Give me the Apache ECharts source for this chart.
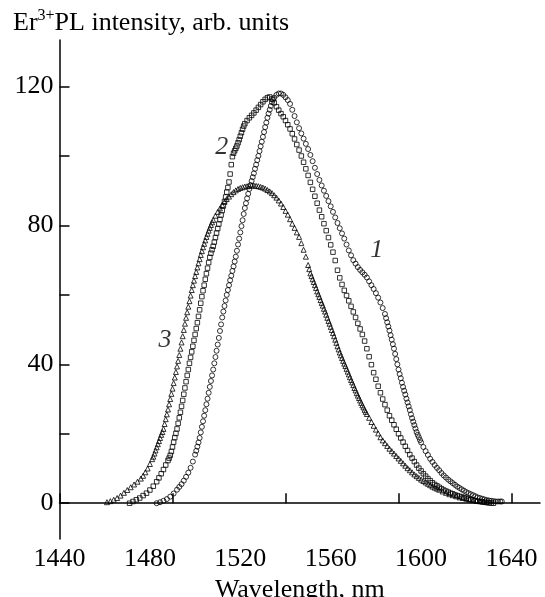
<!DOCTYPE html>
<html>
<head>
<meta charset="utf-8">
<script src="https://cdn.jsdelivr.net/npm/echarts@6/dist/echarts.min.js"></script>
<style>
  html, body { margin: 0; padding: 0; background: #fff; }
  #chart { width: 545px; height: 597px; }
</style>
</head>
<body>
<div id="chart"></div>
<script>
// curve 1, open circles: [wavelength nm, intensity]
const curve1 = [
  [1483, 0.0], [1484.5, 0.3], [1486, 0.7], [1487.5, 1.2], [1489, 1.9], [1490.5, 2.8], [1492, 3.9], [1493, 4.7],
  [1494, 5.5], [1495, 6.5], [1496, 7.6], [1497, 8.8], [1498, 10.2], [1499, 12.0], [1500, 14.0], [1500.5, 15.1],
  [1501, 16.3], [1501.5, 17.5], [1502, 18.8], [1502.5, 20.4], [1503, 22.0], [1503.5, 23.6], [1504, 25.2], [1504.5, 26.8],
  [1505, 28.5], [1505.5, 30.1], [1506, 31.8], [1506.5, 33.5], [1507, 35.2], [1507.5, 36.8], [1508, 38.5], [1508.5, 40.3],
  [1509, 42.1], [1509.5, 43.9], [1510, 45.7], [1510.5, 47.6], [1511, 49.6], [1511.5, 51.5], [1512, 53.5], [1512.5, 55.2],
  [1513, 56.8], [1513.5, 58.4], [1514, 60.0], [1514.5, 61.4], [1515, 62.8], [1515.5, 64.2], [1516, 65.5], [1516.5, 66.9],
  [1517, 68.2], [1517.5, 69.6], [1518, 71.0], [1518.5, 72.7], [1519, 74.5], [1519.5, 76.2], [1520, 78.0], [1520.5, 79.8],
  [1521, 81.5], [1521.5, 83.3], [1522, 85.0], [1522.5, 86.4], [1523, 87.8], [1523.5, 89.1], [1524, 90.5], [1524.5, 91.6],
  [1525, 92.8], [1525.5, 93.9], [1526, 95.0], [1526.5, 96.3], [1527, 97.5], [1527.5, 98.8], [1528, 100.0], [1528.5, 101.4],
  [1529, 102.8], [1529.5, 104.1], [1530, 105.5], [1530.5, 106.9], [1531, 108.3], [1531.5, 109.6], [1532, 111.0], [1532.5, 112.2],
  [1533, 113.3], [1533.5, 114.4], [1534, 115.5], [1534.5, 116.2], [1535, 116.8], [1536, 117.6], [1537, 118.0], [1538, 118.0],
  [1539, 117.6], [1540, 116.9], [1541, 116.1], [1542, 115.0], [1543, 113.3], [1544, 111.5], [1545, 109.7], [1546, 108.0],
  [1547, 106.5], [1548, 105.0], [1549, 103.5], [1550, 102.0], [1551, 100.3], [1552, 98.5], [1553, 96.6], [1554, 94.8],
  [1555, 93.1], [1556, 91.5], [1557, 90.0], [1558, 88.5], [1559, 87.0], [1560, 85.5], [1561, 83.9], [1562, 82.3],
  [1563, 80.7], [1564, 79.2], [1565, 77.7], [1566, 76.2], [1567, 74.5], [1568, 72.8], [1569, 71.4], [1570, 70.0],
  [1571, 69.0], [1572, 68.0], [1573, 67.2], [1574, 66.5], [1575, 65.8], [1576, 65.0], [1577, 63.9], [1578, 62.8],
  [1579, 61.7], [1580, 60.5], [1581, 59.2], [1582, 57.8], [1583, 56.2], [1584, 54.5], [1584.5, 53.3], [1585, 52.1],
  [1585.5, 50.9], [1586, 49.7], [1586.5, 48.4], [1587, 47.1], [1587.5, 45.8], [1588, 44.5], [1588.5, 43.0], [1589, 41.5],
  [1589.5, 40.0], [1590, 38.5], [1590.5, 37.2], [1591, 36.0], [1591.5, 34.7], [1592, 33.5], [1592.5, 32.4], [1593, 31.3],
  [1593.5, 30.1], [1594, 29.0], [1594.5, 27.9], [1595, 26.8], [1595.5, 25.6], [1596, 24.5], [1596.5, 23.5], [1597, 22.5],
  [1597.5, 21.5], [1598, 20.5], [1598.5, 19.7], [1599, 19.0], [1599.5, 18.2], [1600, 17.5], [1601, 16.2], [1602, 15.0],
  [1603, 13.9], [1604, 12.8], [1605, 11.9], [1606, 11.0], [1607, 10.2], [1608, 9.5], [1609, 8.7], [1610, 8.0],
  [1611, 7.4], [1612, 6.8], [1613, 6.3], [1614, 5.8], [1615, 5.3], [1616, 4.8], [1617, 4.4], [1618, 4.0],
  [1619, 3.6], [1620, 3.2], [1621, 2.9], [1622, 2.6], [1623, 2.3], [1624, 2.0], [1625, 1.7], [1626, 1.5],
  [1627, 1.3], [1628, 1.1], [1629, 0.9], [1630, 0.8], [1631, 0.7], [1632, 0.6], [1633, 0.5], [1634, 0.5],
  [1635, 0.5], [1635.7, 0.5]
]

// curve 2, open squares
const curve2 = [
  [1471, 0.0], [1472.5, 0.5], [1474, 1.0], [1475.5, 1.5], [1477, 2.2], [1478.5, 2.9], [1480, 3.8], [1481.5, 4.9],
  [1483, 6.2], [1484, 7.3], [1485, 8.5], [1486, 9.7], [1487, 11.0], [1488, 12.3], [1488.5, 13.0], [1489, 13.8],
  [1489.5, 14.9], [1490, 16.2], [1490.5, 17.6], [1491, 18.9], [1491.5, 20.1], [1492, 21.4], [1492.5, 23.0], [1493, 24.6],
  [1493.5, 26.2], [1494, 27.9], [1494.5, 29.6], [1495, 31.4], [1495.5, 33.2], [1496, 35.0], [1496.5, 36.8], [1497, 38.5],
  [1497.5, 40.3], [1498, 42.0], [1498.5, 43.6], [1499, 45.2], [1499.5, 46.9], [1500, 48.6], [1500.5, 50.3], [1501, 52.0],
  [1501.5, 53.8], [1502, 55.7], [1502.5, 57.6], [1503, 59.5], [1503.5, 61.2], [1504, 62.8], [1504.5, 64.5], [1505, 66.1],
  [1505.5, 67.7], [1506, 69.3], [1506.5, 70.8], [1507, 72.0], [1507.5, 73.0], [1508, 74.0], [1508.5, 75.2], [1509, 76.5],
  [1509.5, 77.8], [1510, 79.1], [1510.5, 80.4], [1511, 81.7], [1511.5, 83.0], [1512, 84.3], [1512.5, 85.6], [1513, 86.9],
  [1513.5, 88.2], [1514, 89.6], [1514.5, 90.9], [1515, 92.5], [1515.5, 94.8], [1516, 97.5], [1516.5, 99.8], [1517, 100.8],
  [1517.5, 101.5], [1518, 102.2], [1518.5, 102.9], [1519, 103.8], [1519.5, 104.7], [1520, 105.7], [1520.5, 106.7], [1521, 107.7],
  [1521.5, 108.6], [1522, 109.3], [1523, 110.2], [1524, 111.0], [1525, 111.7], [1526, 112.4], [1527, 113.2], [1528, 114.0],
  [1529, 114.8], [1530, 115.6], [1531, 116.3], [1532, 116.8], [1533, 117.0], [1534, 116.4], [1535, 115.3], [1536, 114.2],
  [1537, 113.2], [1538, 112.2], [1539, 111.3], [1540, 110.2], [1541, 109.0], [1542, 107.8], [1543, 106.4], [1544, 104.9],
  [1545, 103.3], [1546, 101.7], [1547, 100.0], [1548, 98.2], [1549, 96.3], [1550, 94.4], [1551, 92.4], [1552, 90.4],
  [1553, 88.4], [1554, 86.4], [1555, 84.4], [1556, 82.5], [1557, 80.5], [1558, 78.5], [1559, 76.5], [1560, 74.4],
  [1561, 72.3], [1562, 69.9], [1563, 67.1], [1564, 64.9], [1565, 63.0], [1566, 61.3], [1567, 59.8], [1568, 58.3],
  [1569, 56.7], [1570, 55.1], [1571, 53.5], [1572, 51.8], [1573, 50.2], [1574, 48.6], [1575, 46.7], [1576, 44.5],
  [1577, 42.2], [1578, 39.9], [1579, 37.6], [1580, 35.7], [1581, 33.7], [1582, 31.8], [1583, 30.0], [1584, 28.4],
  [1585, 26.8], [1586, 25.2], [1587, 23.9], [1588, 22.6], [1589, 21.3], [1590, 20.0], [1591, 18.8], [1592, 17.6],
  [1593, 16.4], [1594, 15.2], [1595, 14.0], [1596, 13.0], [1597, 12.0], [1598, 11.0], [1599, 10.1], [1600, 9.3],
  [1601, 8.5], [1602, 7.8], [1603, 7.1], [1604, 6.5], [1605, 5.9], [1606, 5.4], [1607, 5.0], [1608, 4.6],
  [1609, 4.2], [1610, 3.8], [1611, 3.5], [1612, 3.2], [1613, 2.9], [1614, 2.7], [1615, 2.4], [1616, 2.2],
  [1617, 2.0], [1618, 1.8], [1619, 1.6], [1620, 1.4], [1621, 1.2], [1622, 1.0], [1623, 0.9], [1624, 0.7],
  [1625, 0.6], [1626, 0.5], [1627, 0.4], [1628, 0.3], [1629, 0.2], [1630, 0.1], [1631, 0.05], [1632, 0.0]
]

// curve 3, open triangles
const curve3 = [
  [1461, 0.3], [1462.5, 0.6], [1464, 1.0], [1465.5, 1.5], [1467, 2.2], [1468.5, 3.0], [1470, 3.8], [1471.5, 4.6],
  [1473, 5.4], [1474.5, 6.2], [1476, 7.1], [1477, 7.9], [1478, 8.9], [1479, 10.0], [1480, 11.3], [1481, 12.7],
  [1481.5, 13.4], [1482, 14.3], [1482.5, 15.2], [1483, 16.1], [1483.5, 17.0], [1484, 17.9], [1484.5, 18.8], [1485, 19.7],
  [1485.5, 20.5], [1486, 21.4], [1486.5, 22.8], [1487, 24.2], [1487.5, 25.6], [1488, 27.0], [1488.5, 28.5], [1489, 30.0],
  [1489.5, 31.5], [1490, 33.0], [1490.5, 34.6], [1491, 36.2], [1491.5, 37.8], [1492, 39.4], [1492.5, 41.0], [1493, 42.7],
  [1493.5, 44.5], [1494, 46.3], [1494.5, 48.1], [1495, 49.9], [1495.5, 51.7], [1496, 53.4], [1496.5, 55.0], [1497, 56.6],
  [1497.5, 58.2], [1498, 59.8], [1498.5, 61.4], [1499, 62.8], [1499.5, 64.1], [1500, 65.4], [1500.5, 66.6], [1501, 67.9],
  [1501.5, 69.1], [1502, 70.3], [1502.5, 71.5], [1503, 72.6], [1503.5, 73.7], [1504, 74.7], [1504.5, 75.7], [1505, 76.7],
  [1505.5, 77.6], [1506, 78.5], [1506.5, 79.3], [1507, 80.1], [1507.5, 80.9], [1508, 81.6], [1509, 82.8], [1510, 83.9],
  [1511, 84.9], [1512, 85.9], [1513, 86.8], [1514, 87.6], [1515, 88.3], [1516, 89.0], [1517, 89.6], [1518, 90.1],
  [1519, 90.5], [1520, 90.8], [1521, 91.0], [1522, 91.2], [1523, 91.3], [1524, 91.4], [1525, 91.5], [1526, 91.5],
  [1527, 91.4], [1528, 91.3], [1529, 91.1], [1530, 90.9], [1531, 90.6], [1532, 90.2], [1533, 89.8], [1534, 89.3],
  [1535, 88.7], [1536, 88.0], [1537, 87.2], [1538, 86.3], [1539, 85.3], [1540, 84.2], [1541, 83.1], [1542, 81.8],
  [1543, 80.5], [1544, 79.3], [1545, 78.0], [1546, 76.7], [1547, 74.9], [1548, 73.0], [1549, 71.0], [1550, 68.6],
  [1550.5, 67.4], [1551, 66.2], [1551.5, 65.4], [1552, 64.5], [1552.5, 63.7], [1553, 62.8], [1553.5, 62.0], [1554, 61.0],
  [1554.5, 60.2], [1555, 59.4], [1555.5, 58.5], [1556, 57.7], [1556.5, 56.9], [1557, 56.0], [1557.5, 55.2], [1558, 54.3],
  [1558.5, 53.4], [1559, 52.5], [1559.5, 51.7], [1560, 50.8], [1560.5, 49.9], [1561, 49.0], [1561.5, 48.1], [1562, 47.1],
  [1562.5, 46.2], [1563, 45.2], [1563.5, 44.3], [1564, 43.4], [1564.5, 42.6], [1565, 41.8], [1565.5, 41.0], [1566, 40.2],
  [1566.5, 39.5], [1567, 38.7], [1567.5, 37.9], [1568, 37.1], [1568.5, 36.3], [1569, 35.5], [1569.5, 34.8], [1570, 34.0],
  [1570.5, 33.2], [1571, 32.5], [1571.5, 31.7], [1572, 31.0], [1572.5, 30.3], [1573, 29.6], [1573.5, 28.9], [1574, 28.2],
  [1574.5, 27.6], [1575, 26.9], [1575.5, 26.3], [1576, 25.7], [1577, 24.6], [1578, 23.4], [1579, 22.3], [1580, 21.2],
  [1581, 20.1], [1582, 19.0], [1583, 18.1], [1584, 17.3], [1585, 16.5], [1586, 15.7], [1587, 15.0], [1588, 14.3],
  [1589, 13.6], [1590, 12.9], [1591, 12.2], [1592, 11.5], [1593, 10.8], [1594, 10.1], [1595, 9.5], [1596, 8.9],
  [1597, 8.3], [1598, 7.8], [1599, 7.3], [1600, 6.8], [1601, 6.4], [1602, 6.0], [1603, 5.6], [1604, 5.2],
  [1605, 4.8], [1606, 4.5], [1607, 4.2], [1608, 3.9], [1609.5, 3.4], [1611, 3.0], [1612.5, 2.6], [1614, 2.3],
  [1615.5, 2.0], [1617, 1.7], [1618.5, 1.5], [1620, 1.3], [1621.5, 1.1], [1623, 0.9], [1624.5, 0.8], [1626, 0.6],
  [1627.5, 0.5], [1629, 0.4]
]

// curve numbers written next to the curves (data coords)
const curveNames = ['1', '2', '3']
const nameX = [1580.4, 1511.8, 1486.7]
const nameY = [72.8, 102.5, 47]

const xLabelTicks = [1440, 1480, 1520, 1560, 1600, 1640]
const xMarkTicks = [1440, 1490, 1540, 1590, 1640]
const yLabelTicks = [0, 40, 80, 120]
const yMarkTicks = [0, 20, 40, 60, 80, 100, 120]

const serif = 'Liberation Serif'
const chart = echarts.init(document.getElementById('chart'))

const markStyle = {
  color: 'rgba(0,0,0,0)',
  borderColor: '#000',
  borderWidth: 1
}

const option = {
  animation: false,
  title: {
    left: 13,
    top: 8,
    padding: 0,
    text: '{a|Er}{s|3+}{a|PL intensity, arb. units}',
    textStyle: {
      rich: {
        a: { fontFamily: serif, fontSize: 26, fontWeight: 'normal', lineHeight: 30, color: '#000' },
        s: { fontFamily: serif, fontSize: 16, fontWeight: 'normal', lineHeight: 16, verticalAlign: 'top', color: '#000' }
      }
    }
  },
  grid: {
    left: 59.5,
    right: 5,
    top: 40,
    bottom: 58,
    containLabel: false,
    outerBoundsMode: 'none'
  },
  xAxis: {
    type: 'value',
    min: 1440,
    max: 1652.6,
    name: 'Wavelength, nm',
    nameLocation: 'middle',
    nameGap: 31,
    nameTextStyle: { fontFamily: serif, fontSize: 26, color: '#000' },
    axisLine: { lineStyle: { color: '#000', width: 1.5 } },
    axisTick: {
      inside: true,
      length: 10,
      customValues: xMarkTicks,
      lineStyle: { color: '#000', width: 1.5 }
    },
    axisLabel: {
      customValues: xLabelTicks,
      formatter: v => String(v),
      margin: 7,
      fontFamily: serif,
      fontSize: 26,
      color: '#000'
    },
    splitLine: { show: false }
  },
  yAxis: {
    type: 'value',
    min: -10.3,
    max: 133.4,
    axisLine: { show: true, lineStyle: { color: '#000', width: 1.5 } },
    axisTick: {
      show: true,
      inside: true,
      length: 10,
      customValues: yMarkTicks,
      lineStyle: { color: '#000', width: 1.5 }
    },
    axisLabel: {
      customValues: yLabelTicks,
      formatter: v => String(v),
      margin: 6,
      fontFamily: serif,
      fontSize: 26,
      color: '#000'
    },
    splitLine: { show: false }
  },
  series: [
    { type: 'scatter', data: curve1, symbol: 'circle', symbolSize: 5, itemStyle: markStyle },
    { type: 'scatter', data: curve2, symbol: 'rect', symbolSize: 4.5, itemStyle: markStyle },
    { type: 'scatter', data: curve3, symbol: 'triangle', symbolSize: 5, itemStyle: markStyle },
    {
      type: 'scatter',
      data: curveNames.map((n, i) => [nameX[i], nameY[i], n]),
      symbolSize: 0,
      label: {
        show: true,
        position: 'inside',
        formatter: p => p.value[2],
        fontFamily: serif,
        fontStyle: 'italic',
        fontSize: 26,
        color: '#000',
        textBorderWidth: 0
      }
    }
  ]
}

chart.setOption(option)
window.onresize = () => {
  chart.resize()
}
</script>
</body>
</html>
